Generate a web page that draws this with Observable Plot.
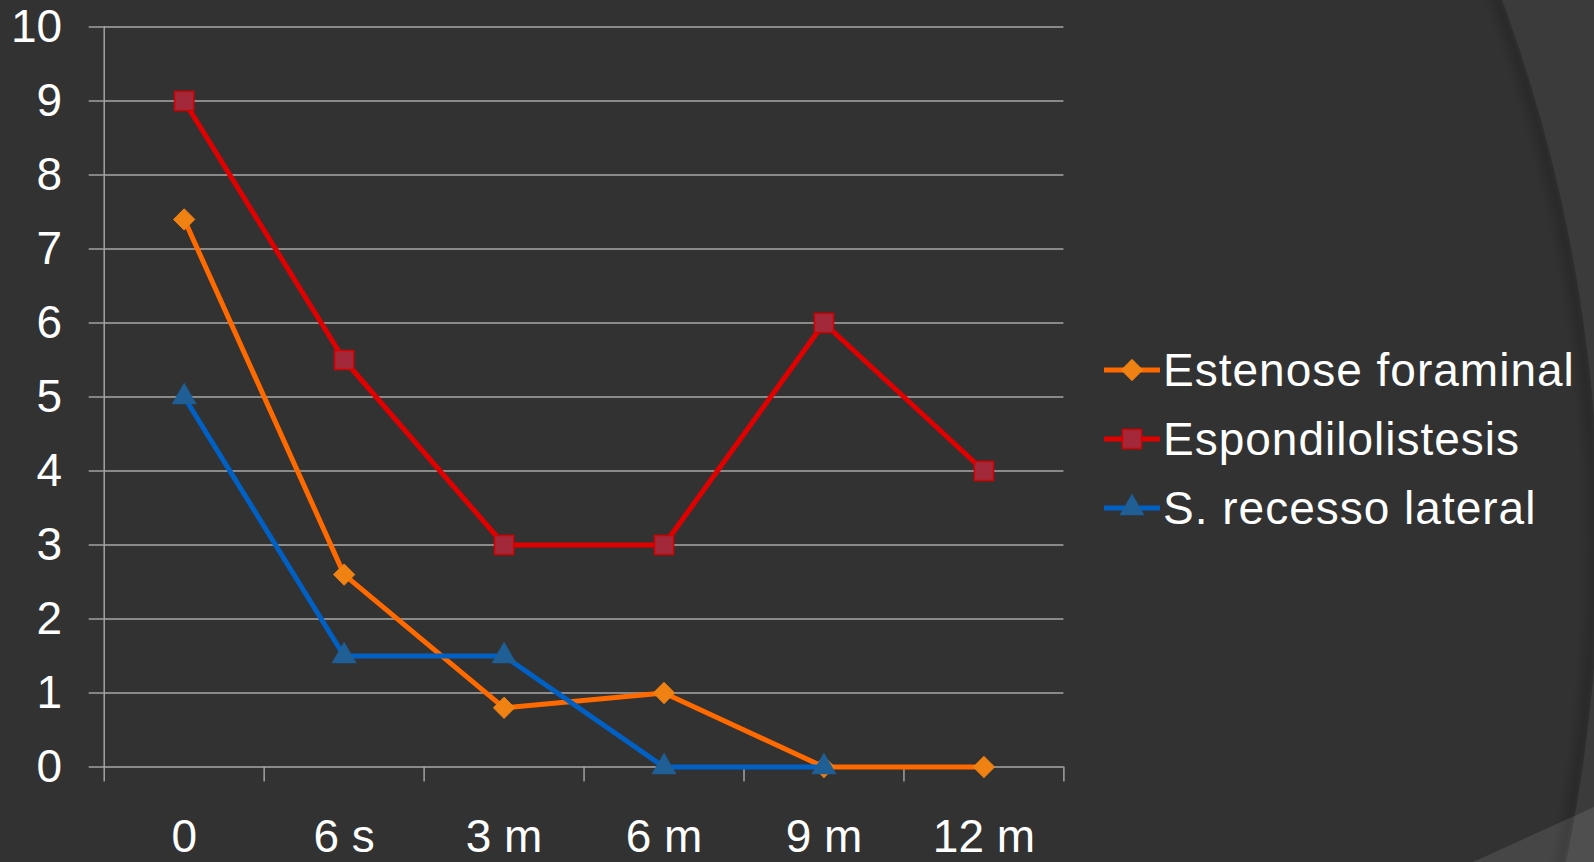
<!DOCTYPE html>
<html>
<head>
<meta charset="utf-8">
<script src="https://cdn.jsdelivr.net/npm/d3@7"></script>
<script src="https://cdn.jsdelivr.net/npm/@observablehq/plot@0.6"></script>
<style>
  html, body { margin: 0; padding: 0; background: #323232; }
  #stage { position: relative; width: 1594px; height: 862px; overflow: hidden; font-family: "Liberation Sans", Arial, sans-serif; }
  #backdrop, #chart, #legend { position: absolute; left: 0; top: 0; }
  #chart svg { display: block; }
  #legend { left: 1104px; top: 335px; color: #ffffff; }
  .row { display: flex; align-items: center; height: 69px; font-size: 46px; letter-spacing: 1px; white-space: nowrap; }
  .row svg { display: block; margin-right: 3px; }
</style>
</head>
<body>
<div id="stage">
  <svg id="backdrop" width="1594" height="862"></svg>
  <div id="chart"></div>
  <div id="legend"></div>
</div>
<script>
// Time points after surgery
const categories = ["0", "6 s", "3 m", "6 m", "9 m", "12 m"];

// Score per group at each time point
const estenoseForaminal = [7.4, 2.6, 0.8, 1, 0, 0];
const espondilolistesis = [9, 5.5, 3, 3, 6, 4];
const recessoLateral = [5, 1.5, 1.5, 0, 0];

const seriesNames = ["Estenose foraminal", "Espondilolistesis", "S. recesso lateral"];
const yTicks = [0, 1, 2, 3, 4, 5, 6, 7, 8, 9, 10];

// Series styling
const seriesStyles = [
  { line: "#ff6a00", fill: "#ef8212", stroke: "#ef8212", symbol: "diamond2", r: 9.6, strokeWidth: 1 },
  { line: "#e00000", fill: "#a3283a", stroke: "#d40000", symbol: "square", r: 10.8, strokeWidth: 1.5 },
  { line: "#0060c4", fill: "#1f5f96", stroke: "#1f5f96", symbol: "triangle", r: 9, strokeWidth: 0.5 }
];

const seriesValues = [estenoseForaminal, espondilolistesis, recessoLateral];
const seriesData = seriesValues.map((vals, s) =>
  vals.map((v, i) => ({ x: i, y: v, series: seriesNames[s] }))
);

// Slide backdrop: large arc on the right and a lighter wedge at the bottom corner
(function drawBackdrop() {
  const svg = d3.select("#backdrop");
  const defs = svg.append("defs");
  const cx = 33, cy = 542, R = 1566;
  const g = defs.append("radialGradient")
    .attr("id", "arcShade").attr("gradientUnits", "userSpaceOnUse")
    .attr("cx", cx).attr("cy", cy).attr("r", R);
  g.append("stop").attr("offset", 0).attr("stop-color", "#323232");
  g.append("stop").attr("offset", 0.988).attr("stop-color", "#323232");
  g.append("stop").attr("offset", 0.997).attr("stop-color", "#2a2a2a");
  g.append("stop").attr("offset", 1).attr("stop-color", "#2e2e2e");
  svg.append("rect").attr("width", 1594).attr("height", 862).attr("fill", "#3b3b3b");
  svg.append("circle").attr("cx", cx).attr("cy", cy).attr("r", R).attr("fill", "url(#arcShade)");
  svg.append("path").attr("d", "M1473,862L1594,807L1594,862Z").attr("fill", "#ffffff").attr("fill-opacity", 0.1);
})();

const boundaries = d3.range(categories.length + 1).map(i => i - 0.5);
const gridColor = "#a9a9a9";

const marks = [
  Plot.gridY(yTicks, { stroke: gridColor, strokeOpacity: 1, strokeWidth: 1.4 }),
  Plot.axisY(yTicks, {
    tickSize: 15, tickPadding: 27, stroke: gridColor, strokeWidth: 1.4,
    fill: "#ffffff", fontSize: 46, label: null, tickFormat: d => String(d)
  }),
  Plot.frame({ anchor: "left", stroke: gridColor, strokeWidth: 1.4 }),
  Plot.axisX(boundaries, {
    tickSize: 15, stroke: gridColor, strokeWidth: 1.4, tickFormat: () => "", label: null
  }),
  Plot.axisX(d3.range(categories.length), {
    tickSize: 0, tickPadding: 52, fill: "#ffffff", fontSize: 46, label: null,
    tickFormat: i => categories[i]
  })
];

seriesData.forEach((data, s) => {
  const st = seriesStyles[s];
  marks.push(Plot.line(data, { x: "x", y: "y", stroke: st.line, strokeWidth: 5, strokeLinejoin: "round" }));
  marks.push(Plot.dot(data, {
    x: "x", y: "y", symbol: () => st.symbol, r: st.r,
    fill: st.fill, stroke: st.stroke, strokeWidth: st.strokeWidth
  }));
});

const chart = Plot.plot({
  width: 1594,
  height: 862,
  marginLeft: 103.7,
  marginRight: 530.6,
  marginTop: 26.5,
  marginBottom: 95.5,
  style: { background: "transparent", color: "#ffffff", fontFamily: "'Liberation Sans', Arial, sans-serif", fontSize: "46px" },
  x: { type: "linear", domain: [-0.5, categories.length - 0.5] },
  y: { domain: [0, 10] },
  symbol: { type: "identity" },
  marks
});
document.getElementById("chart").appendChild(chart);

// Legend rows: line swatch with the series marker, then the name
const symbolMap = { diamond2: d3.symbolDiamond2, square: d3.symbolSquare, triangle: d3.symbolTriangle };
const legend = d3.select("#legend");
seriesNames.forEach((name, s) => {
  const st = seriesStyles[s];
  const row = legend.append("div").attr("class", "row");
  const sw = row.append("svg").attr("width", 56).attr("height", 30);
  sw.append("line").attr("x1", 0).attr("x2", 56).attr("y1", 15).attr("y2", 15)
    .attr("stroke", st.line).attr("stroke-width", 5);
  sw.append("path")
    .attr("transform", "translate(28,15)")
    .attr("d", d3.symbol(symbolMap[st.symbol], Math.PI * st.r * st.r)())
    .attr("fill", st.fill).attr("stroke", st.stroke).attr("stroke-width", st.strokeWidth);
  row.append("span").text(name);
});
</script>
</body>
</html>
